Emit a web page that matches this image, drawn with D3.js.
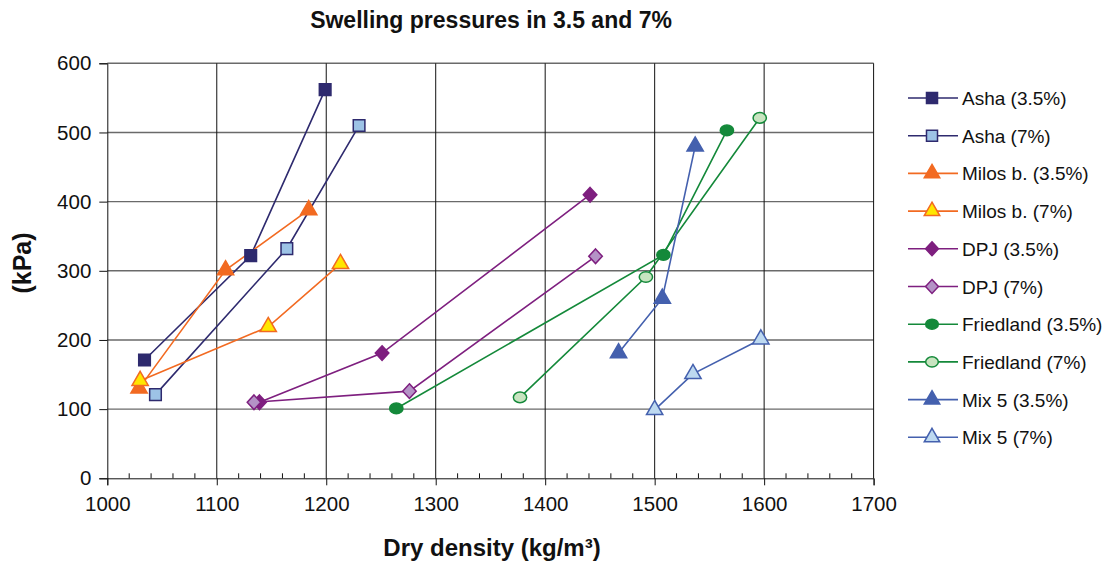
<!DOCTYPE html>
<html><head><meta charset="utf-8">
<script src="https://cdn.jsdelivr.net/npm/d3@7"></script>
<style>body{margin:0;background:#fff}svg{display:block;font-family:"Liberation Sans",Arial,sans-serif}</style>
</head><body><svg id="c" width="1107" height="564"></svg>
<script>
const seriesNames = ["Asha (3.5%)","Asha (7%)","Milos b. (3.5%)","Milos b. (7%)","DPJ (3.5%)","DPJ (7%)","Friedland (3.5%)","Friedland (7%)","Mix 5 (3.5%)","Mix 5 (7%)"];
const ashaA = [[1034,171],[1131,322],[1199,562]];
const ashaB = [[1044,121],[1164,332],[1230,510]];
const milosA = [[1029,130],[1108,301],[1184,388]];
const milosB = [[1030,141],[1147,219],[1213,310]];
const dpjA = [[1139,110],[1251,181],[1441,410]];
const dpjB = [[1134,110],[1276,126],[1446,321]];
const friedA = [[1264,101],[1508,323],[1566,503]];
const friedB = [[1377,117],[1492,291],[1596,521]];
const mixA = [[1467,181],[1507,260],[1537,480]];
const mixB = [[1500,99],[1535,151],[1597,201]];
const xTicks = [1000,1100,1200,1300,1400,1500,1600,1700];
const yTicks = [0,100,200,300,400,500,600];

const styles = [
 {line:"#2E2A6E", fill:"#2E2A6E", stroke:"#2E2A6E", sym:"square"},
 {line:"#2E2A6E", fill:"#9DC3E6", stroke:"#2E2A6E", sym:"square"},
 {line:"#F26A21", fill:"#F26A21", stroke:"#F26A21", sym:"triangle"},
 {line:"#F26A21", fill:"#FFE600", stroke:"#F26A21", sym:"triangle"},
 {line:"#7E1F7F", fill:"#7E1F7F", stroke:"#7E1F7F", sym:"diamond"},
 {line:"#7E1F7F", fill:"#B493C6", stroke:"#7E1F7F", sym:"diamond"},
 {line:"#14893A", fill:"#14893A", stroke:"#14893A", sym:"circle"},
 {line:"#14893A", fill:"#C8E4C0", stroke:"#14893A", sym:"circle"},
 {line:"#4460AE", fill:"#4460AE", stroke:"#4460AE", sym:"triangle"},
 {line:"#4460AE", fill:"#BDD9F0", stroke:"#4460AE", sym:"triangle"}
];
const data = [ashaA,ashaB,milosA,milosB,dpjA,dpjB,friedA,friedB,mixA,mixB];

const svg = d3.select("#c");
const L=107.3, R=873.6, T=63.3, B=478.3;
const x = d3.scaleLinear().domain([1000,1700]).range([L,R]);
const y = d3.scaleLinear().domain([0,600]).range([B,T]);

// horizontal grid
svg.append("g").selectAll("line").data(yTicks.filter(d=>d>0)).join("line")
 .attr("x1",L).attr("x2",R).attr("y1",d=>y(d)).attr("y2",d=>y(d))
 .attr("stroke","#6a6a6a").attr("stroke-width",1.4);
// vertical grid
svg.append("g").selectAll("line").data(xTicks.filter(d=>d>1000)).join("line")
 .attr("x1",d=>x(d)).attr("x2",d=>x(d)).attr("y1",T).attr("y2",B)
 .attr("stroke","#111").attr("stroke-width",1);

// axes
const xAxis = d3.axisBottom(x).tickValues(xTicks).tickSize(7).tickPadding(11).tickFormat(d3.format("d"));
const gx = svg.append("g").attr("transform",`translate(0,${B})`).call(xAxis);
gx.select(".domain").attr("stroke","#111");
gx.selectAll(".tick line").attr("stroke","#111");
gx.selectAll("text").attr("font-size",20.5).attr("fill","#111").attr("font-family","Liberation Sans, Arial, sans-serif");
const minor = d3.range(1020,1700,20).filter(d=>d%100!==0);
svg.append("g").selectAll("line").data(minor).join("line")
 .attr("x1",d=>x(d)).attr("x2",d=>x(d)).attr("y1",B).attr("y2",B-5)
 .attr("stroke","#111");

const yAxis = d3.axisLeft(y).tickValues(yTicks).tickSize(8).tickPadding(8);
const gy = svg.append("g").attr("transform",`translate(${L},0)`).call(yAxis);
gy.select(".domain").attr("stroke","#111");
gy.selectAll(".tick line").attr("stroke","#111");
gy.selectAll("text").attr("font-size",20.5).attr("fill","#111").attr("font-family","Liberation Sans, Arial, sans-serif");

const symMap = {square:d3.symbolSquare, triangle:d3.symbolTriangle, diamond:d3.symbolDiamond, circle:d3.symbolCircle};
const symSize = {square:135, triangle:115, diamond:62, circle:105};
const lineGen = d3.line().x(d=>x(d[0])).y(d=>y(d[1]));
const extra = s => (s.sym==="circle"?" scale(1.15,0.92)":"") + (s.sym==="diamond"?" scale(1.6,1)":"");

data.forEach((pts,i)=>{
  const s = styles[i];
  svg.append("path").datum(pts).attr("d",lineGen).attr("fill","none")
    .attr("stroke",s.line).attr("stroke-width",1.6);
});
data.forEach((pts,i)=>{
  const s = styles[i];
  const sym = d3.symbol().type(symMap[s.sym]).size(symSize[s.sym]);
  svg.append("g").selectAll("path").data(pts).join("path")
    .attr("d",sym)
    .attr("transform",d=>`translate(${x(d[0])},${y(d[1])})` + extra(s))
    .attr("fill",s.fill).attr("stroke",s.stroke).attr("stroke-width",1.5)
    .attr("vector-effect","non-scaling-stroke");
});

// legend
const lg = svg.append("g");
seriesNames.forEach((name,i)=>{
  const s = styles[i];
  const yy = 98 + i*37.7;
  lg.append("line").attr("x1",908).attr("x2",958).attr("y1",yy).attr("y2",yy).attr("stroke",s.line).attr("stroke-width",1.6);
  const sym = d3.symbol().type(symMap[s.sym]).size(symSize[s.sym]*0.9);
  lg.append("path").attr("d",sym)
    .attr("transform",`translate(932,${yy})` + extra(s))
    .attr("fill",s.fill).attr("stroke",s.stroke).attr("stroke-width",1.5)
    .attr("vector-effect","non-scaling-stroke");
  lg.append("text").attr("x",962).attr("y",yy+7).attr("font-size",19).attr("fill","#111").text(name);
});

// titles
svg.append("text").attr("x",491).attr("y",28).attr("text-anchor","middle")
 .attr("font-size",23).attr("font-weight","bold").attr("fill","#111").text("Swelling pressures in 3.5 and 7%");
svg.append("text").attr("x",492).attr("y",556).attr("text-anchor","middle")
 .attr("font-size",24).attr("font-weight","bold").attr("fill","#111").text("Dry density (kg/m³)");
svg.append("text").attr("transform","translate(31,263) rotate(-90)").attr("text-anchor","middle")
 .attr("font-size",25).attr("font-weight","bold").attr("fill","#111").text("(kPa)");
</script></body></html>
